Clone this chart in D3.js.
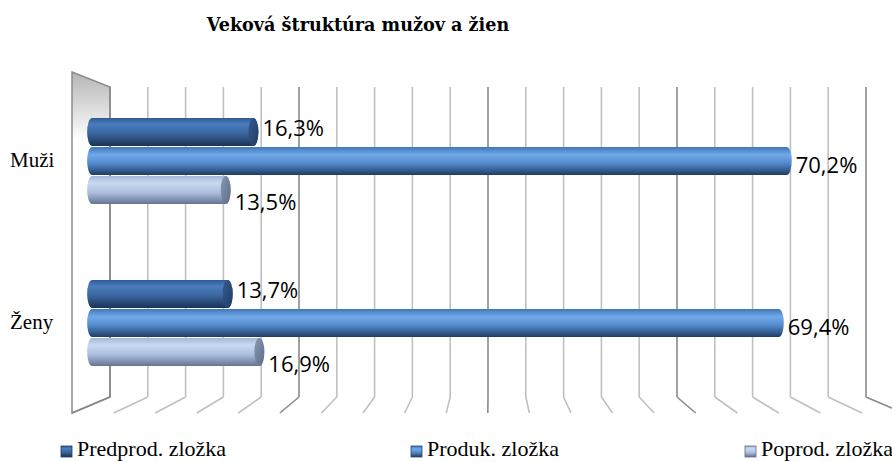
<!DOCTYPE html>
<html>
<head>
<meta charset="utf-8">
<script src="https://cdn.jsdelivr.net/npm/d3@7"></script>
<style>
  html, body { margin: 0; padding: 0; background: #ffffff; }
  svg { display: block; }
</style>
</head>
<body>
<svg id="chart" width="892" height="462"></svg>
<script>
// ---------- data ----------
const title = "Veková štruktúra mužov a žien";
const categories = ["Muži", "Ženy"];
const seriesNames = ["Predprod. zložka", "Produk. zložka", "Poprod. zložka"];
const predprod = [16.3, 13.7];
const produk   = [70.2, 69.4];
const poprod   = [13.5, 16.9];
const gridTicks = [0, 4, 8, 12, 16, 20, 24, 28, 32, 36, 40, 44, 48, 52, 56, 60, 64, 68, 72, 76, 80];
const majorTicks = [0, 20, 40, 60, 80];

const seriesValues = [predprod, produk, poprod];

// ---------- layout ----------
const svg = d3.select("#chart");
const VP = { x: 490, y: 237 };          // perspective vanishing point
const FRONT = 1.1;                       // front plane scale
const BAR_DEPTH = 1.047;                 // depth scale of bar row
const backTop = 87, backBottom = 397;

const proj = (x, t) => VP.x + (x - VP.x) * t;
const projY = (y, t) => VP.y + (y - VP.y) * t;

const x = d3.scaleLinear().domain([0, 80]).range([110, 866]);
const yCat = d3.scaleBand().domain(categories).range([80, 404]).padding(0);
const ySer = d3.scaleBand().domain(seriesNames).range([-43.5, 43.5]).padding(0);
const R = 14, RX = 5;

const fmt = v => d3.format(".1f")(v).replace(".", ",") + "%";

// ---------- defs ----------
const defs = svg.append("defs");
const barStops = [
  [["0%", "#2f5b93"], ["22%", "#4a7dbc"], ["55%", "#3a679f"], ["100%", "#1a3354"]],
  [["0%", "#4077b8"], ["28%", "#70a9ea"], ["58%", "#538bcd"], ["100%", "#203c64"]],
  [["0%", "#a2b6d6"], ["25%", "#c9d9f2"], ["60%", "#abbedd"], ["100%", "#657491"]]
];
const faceStops = [
  [["0%", "#34598c"], ["100%", "#203e66"]],
  [["0%", "#4574b0"], ["100%", "#27466f"]],
  [["0%", "#8797b3"], ["100%", "#5f6d86"]]
];
barStops.forEach((stops, i) => {
  const g = defs.append("linearGradient").attr("id", "bar" + i)
    .attr("x1", 0).attr("y1", 0).attr("x2", 0).attr("y2", 1);
  stops.forEach(s => g.append("stop").attr("offset", s[0]).attr("stop-color", s[1]));
});
faceStops.forEach((stops, i) => {
  const g = defs.append("linearGradient").attr("id", "face" + i)
    .attr("x1", 0).attr("y1", 0).attr("x2", 1).attr("y2", 1);
  stops.forEach(s => g.append("stop").attr("offset", s[0]).attr("stop-color", s[1]));
});
const wallG = defs.append("linearGradient").attr("id", "wall")
  .attr("gradientUnits", "userSpaceOnUse")
  .attr("x1", 0).attr("y1", 72).attr("x2", 0).attr("y2", 140);
wallG.append("stop").attr("offset", "0%").attr("stop-color", "#b4b4b4");
wallG.append("stop").attr("offset", "100%").attr("stop-color", "#ffffff");

// ---------- title ----------
svg.append("text")
  .attr("x", 358).attr("y", 31)
  .attr("text-anchor", "middle")
  .attr("font-family", "'DejaVu Serif', serif")
  .attr("font-weight", "bold")
  .attr("font-size", 17.6)
  .attr("fill", "#000")
  .text(title);

// ---------- left wall ----------
const x0 = x(0);
const wallPts = [
  [proj(x0, FRONT), projY(backTop, FRONT)],
  [x0, backTop],
  [x0, backBottom],
  [proj(x0, FRONT), projY(backBottom, FRONT)]
];
svg.append("polygon")
  .attr("points", wallPts.map(p => p.join(",")).join(" "))
  .attr("fill", "url(#wall)")
  .attr("stroke", "#8c8c8c")
  .attr("stroke-width", 1.5);

// ---------- gridlines ----------
const grid = svg.append("g");
gridTicks.forEach(t => {
  const gx = x(t);
  const col = majorTicks.includes(t) ? "#8a8a8a" : "#c0c0c0";
  grid.append("line")
    .attr("x1", gx).attr("y1", backTop).attr("x2", gx).attr("y2", backBottom)
    .attr("stroke", col).attr("stroke-width", 1.6);
  grid.append("line")
    .attr("x1", gx).attr("y1", backBottom)
    .attr("x2", proj(gx, FRONT)).attr("y2", projY(backBottom, FRONT))
    .attr("stroke", col).attr("stroke-width", 1.6);
});

// ---------- category labels ----------
svg.append("g").selectAll("text").data(categories).join("text")
  .attr("x", 10)
  .attr("y", d => yCat(d) + yCat.bandwidth() / 2 + 6)
  .attr("font-family", "'Liberation Serif', serif")
  .attr("font-size", 21)
  .attr("fill", "#000")
  .text(d => d);

// ---------- bars ----------
const bars = [];
categories.forEach((c, ci) => {
  seriesNames.forEach((s, si) => {
    bars.push({ cat: c, ser: s, si, value: seriesValues[si][ci] });
  });
});

const barG = svg.append("g");
bars.forEach(b => {
  const yc = yCat(b.cat) + yCat.bandwidth() / 2 + ySer(b.ser) + ySer.bandwidth() / 2;
  const xs = proj(x(0), BAR_DEPTH);
  const xe = proj(x(b.value), BAR_DEPTH);
  b.yc = yc; b.xe = xe;
  const p = `M${xs},${yc - R} L${xe},${yc - R} A${RX},${R} 0 0 1 ${xe},${yc + R} ` +
            `L${xs},${yc + R} A${RX},${R} 0 0 1 ${xs},${yc - R} Z`;
  barG.append("path").attr("d", p).attr("fill", `url(#bar${b.si})`);
  if (xe < VP.x) {
    barG.append("ellipse")
      .attr("cx", xe).attr("cy", yc).attr("rx", RX).attr("ry", R)
      .attr("fill", `url(#face${b.si})`);
  }
});

// ---------- data labels ----------
svg.append("g").selectAll("text").data(bars).join("text")
  .attr("x", d => d.xe + RX + 4)
  .attr("y", d => d.yc + 4 + 8 * d.si)
  .attr("font-family", "'Open Sans', sans-serif")
  .attr("font-size", 22)
  .attr("fill", "#000")
  .text(d => fmt(d.value));

// ---------- legend ----------
const legendX = [61, 411, 745];
const lg = svg.append("g");
seriesNames.forEach((s, i) => {
  lg.append("rect")
    .attr("x", legendX[i]).attr("y", 446).attr("width", 11).attr("height", 11)
    .attr("fill", `url(#bar${i})`)
    .attr("stroke", faceStops[i][1][1]).attr("stroke-width", 0.8);
  lg.append("text")
    .attr("x", legendX[i] + 16).attr("y", 456)
    .attr("font-family", "'Liberation Serif', serif")
    .attr("font-size", 22)
    .attr("fill", "#000")
    .text(s);
});
</script>
</body>
</html>
